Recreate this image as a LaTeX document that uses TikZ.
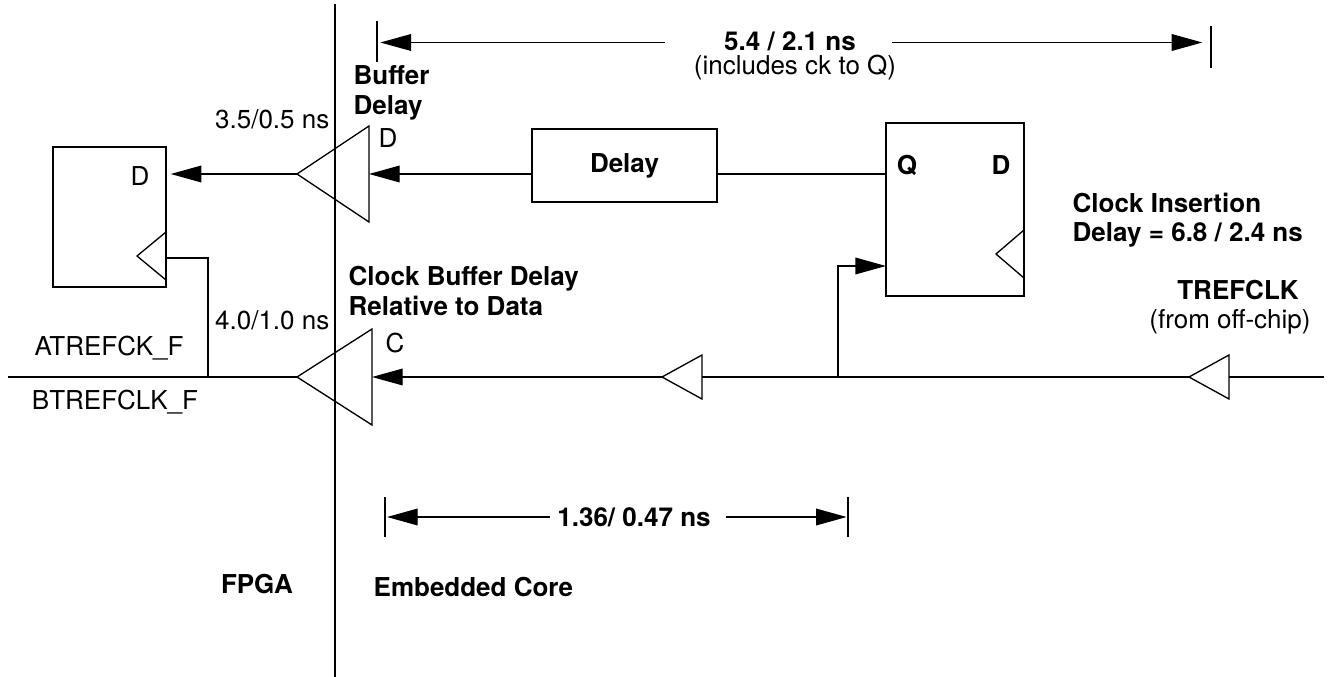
\documentclass[tikz,border=0pt]{standalone}
\usepackage{fontspec}
\setmainfont{TeX Gyre Heros}
\usetikzlibrary{arrows.meta}

\tikzset{every picture/.style={line width=1pt}}
\tikzset{
  lbl/.style={inner sep=0.75pt, font=\fontsize{19.5}{22}\selectfont},
  blbl/.style={inner sep=0.75pt, font=\fontsize{19.5}{22}\selectfont\bfseries},
  regbox/.style={draw, inner sep=0pt},
  arr/.style={-{Triangle[length=23pt,width=12.5pt]}},
}

\begin{document}
\begin{tikzpicture}[x=0.75pt,y=0.75pt,yscale=-1,xscale=1]
\useasboundingbox (0,0) rectangle (1328,677);

%Shape: Register [id:reg]
\node (reg) [regbox, minimum width=84.75pt, minimum height=105pt] at (109.5,217) {};
\draw   (166,232) -- (137,256) -- (166,280) ;
%Shape: Flip flop [id:ff]
\node (ff) [regbox, minimum width=103.5pt, minimum height=129.75pt] at (955,209.5) {};
\draw   (1024,230) -- (996,254) -- (1024,278) ;
%Shape: Delay box [id:delay]
\node (delay) [regbox, blbl, minimum width=138.75pt, minimum height=54.75pt] at (624.5,165.5) {Delay};

%Shape: Buffer [id:bufD]
\coordinate (bufD) at (369,174);
\draw   (bufD) ++(0,-48) -- ++(0,96) -- ++(-72,-48) coordinate (bufDtip) -- cycle ;
%Shape: Buffer [id:bufC]
\coordinate (bufC) at (372,377);
\draw   (bufC) ++(0,-48) -- ++(0,96) -- ++(-75,-48) coordinate (bufCtip) -- cycle ;
%Shape: Buffer [id:bufM]
\coordinate (bufM) at (702,377);
\draw   (bufM) ++(0,-22) -- ++(0,44) -- ++(-40,-22) coordinate (bufMtip) -- cycle ;
%Shape: Buffer [id:bufT]
\coordinate (bufT) at (1229,377);
\draw   (bufT) ++(0,-22) -- ++(0,44) -- ++(-40,-22) coordinate (bufTtip) -- cycle ;

%Straight Lines [id:divider]
\coordinate (divtop) at (335,4);
\coordinate (divbot) at (335,677);
\draw    (divtop) -- (divbot) ;

%Straight Lines [id:data path]
\draw [arr]   (bufDtip) -- ([xshift=3pt]reg.east |- bufDtip) ;
\draw [arr]   (delay.west |- bufD) -- (bufD) ;
\draw    (ff.west |- bufD) -- (delay.east |- bufD) ;

%Straight Lines [id:clock path]
\coordinate (offchip) at (1324,377);
\coordinate (tap) at (838,377);
\coordinate (ffclk) at (886,266);
\coordinate (fpgaL) at (8,377);
\coordinate (regtap) at (208,377);
\coordinate (regclk) at (166,258);
\draw    (offchip) -- (bufT) ;
\draw    (bufTtip) -- (bufM) ;
\draw [arr]   (bufMtip) -- (bufC) ;
\draw [arr]   (tap) |- (ffclk) ;
\draw    (bufCtip) -- (fpgaL) ;
\draw    (regtap) |- (regclk) ;

%Dimension [id:top]
\coordinate (ttickL) at (377,21);
\coordinate (ttickR) at (1211,26);
\coordinate (tlineL) at (665,42.5);
\coordinate (tlineR) at (892,42.5);
\draw    (ttickL) -- ++(0,41) ;
\draw    (ttickR) -- ++(0,42) ;
\draw [arr]   (tlineL) -- ([xshift=2.5pt]ttickL |- tlineL) ;
\draw [arr]   (tlineR) -- ([xshift=-6.5pt]ttickR |- tlineR) ;
%Dimension [id:bottom]
\coordinate (btickL) at (385,497);
\coordinate (btickR) at (848,497);
\coordinate (blineL) at (550,517);
\coordinate (blineR) at (726,517);
\draw    (btickL) -- ++(0,40) ;
\draw    (btickR) -- ++(0,40) ;
\draw [arr]   (blineL) -- ([xshift=1.5pt]btickL |- blineL) ;
\draw [arr]   (blineR) -- ([xshift=-1pt]btickR |- blineR) ;

% Text Node
\draw (140,176) node (regD) [lbl] {D};
% Text Node
\draw (907,165) node (ffQ) [blbl] {Q};
% Text Node
\draw (1001,165) node (ffD) [blbl] {D};
% Text Node
\draw (331,119) node (tdata) [lbl, anchor=east] {3.5/0.5 ns};
% Text Node
\draw (331,320) node (tclk) [lbl, anchor=east] {4.0/1.0 ns};
% Text Node
\draw (109,348) node (atref) [lbl] {ATREFCK\_F};
% Text Node
\draw (115,402) node (btref) [lbl] {BTREFCLK\_F};
% Text Node
\draw (352,93) node (bufdly) [blbl, anchor=west, align=left] {Buffer\\Delay};
% Text Node
\draw (388,138) node (bufDlbl) [lbl] {D};
% Text Node
\draw (347,291) node (clkdly) [blbl, anchor=west, align=left] {Clock Buffer Delay\\Relative to Data};
% Text Node
\draw (395,343) node (bufClbl) [lbl] {C};
% Text Node
\draw (1071,220) node (insdly) [blbl, anchor=west, align=left] {Clock Insertion\\Delay = 6.8 / 2.4 ns};
% Text Node
\draw (1238,290) node (trefclk) [blbl] {TREFCLK};
% Text Node
\draw (1230,322) node (offchipl) [lbl] {(from off-chip)};
% Text Node
\draw (790,41) node (ttop) [blbl, inner sep=0pt] {5.4 / 2.1 ns};
% Text Node
\draw (795,67.5) node (ttopsub) [lbl, inner sep=0pt] {(includes ck to Q)};
% Text Node
\draw (634,517) node (tbot) [blbl] {1.36/ 0.47 ns};
% Text Node
\draw (372,587) node (core) [blbl, anchor=west] {Embedded Core};
% Text Node
\draw (257,584) node (fpga) [blbl] {FPGA};

\end{tikzpicture}
\end{document}
